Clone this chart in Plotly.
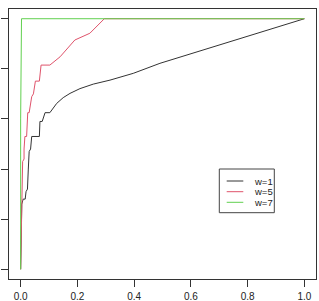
import plotly.graph_objects as go

# ROC-style curves
w1_x = [0, 0.004, 0.009, 0.016, 0.019, 0.024, 0.027, 0.030, 0.035, 0.039, 0.066, 0.068, 0.076,
        0.086, 0.103, 0.115, 0.127, 0.150, 0.174, 0.209, 0.256, 0.315, 0.397, 0.491, 1.0]
w1_y = [0, 0.26, 0.28, 0.28, 0.31, 0.32, 0.40, 0.47, 0.48, 0.53, 0.53, 0.59, 0.59,
        0.625, 0.625, 0.642, 0.662, 0.685, 0.702, 0.721, 0.739, 0.755, 0.782, 0.822, 1.0]

w5_x = [0, 0.003, 0.007, 0.012, 0.012, 0.015, 0.021, 0.025, 0.030, 0.039, 0.045, 0.052, 0.066,
        0.072, 0.103, 0.139, 0.191, 0.244, 0.295, 1.0]
w5_y = [0, 0.28, 0.43, 0.44, 0.48, 0.53, 0.53, 0.625, 0.625, 0.689, 0.70, 0.751, 0.751,
        0.815, 0.815, 0.848, 0.915, 0.942, 1.0, 1.0]

w7_x = [0, 0, 0.003, 1.0]
w7_y = [0, 0.6, 1.0, 1.0]

series_names = ["w=1", "w=5", "w=7"]
series_colors = ["#333333", "#DF536B", "#61D04F"]
x_ticks = [0.0, 0.2, 0.4, 0.6, 0.8, 1.0]
x_tick_labels = ["0.0", "0.2", "0.4", "0.6", "0.8", "1.0"]
y_ticks = [0.0, 0.2, 0.4, 0.6, 0.8, 1.0]

W, H = 319, 301
fig = go.Figure()
for xs, ys, name, col in zip([w1_x, w5_x, w7_x], [w1_y, w5_y, w7_y], series_names, series_colors):
    fig.add_trace(go.Scatter(x=xs, y=ys, mode="lines", name=name,
                             line=dict(color=col, width=1), showlegend=False))

# plot region in pixels
px_l, px_r, px_t, px_b = 9.3, 315.7, 8.7, 279.3

fig.update_layout(
    width=W, height=H,
    margin=dict(l=0, r=0, t=0, b=0),
    paper_bgcolor="white", plot_bgcolor="white",
    font=dict(family="Liberation Sans, Arial, sans-serif", size=10, color="#222"),
    xaxis=dict(domain=[px_l / W, px_r / W], range=[-0.04, 1.04],
               tickvals=x_ticks, ticktext=x_tick_labels,
               ticks="outside", ticklen=7, tickcolor="#333", tickwidth=1,
               showline=True, linecolor="#333", linewidth=1, mirror=True,
               showgrid=False, zeroline=False, automargin=False,
               ticklabelstandoff=1,
               tickfont=dict(size=10, color="#222")),
    yaxis=dict(domain=[1 - px_b / H, 1 - px_t / H], range=[-0.04, 1.04],
               tickvals=y_ticks, showticklabels=False,
               ticks="outside", ticklen=7, tickcolor="#333", tickwidth=1,
               showline=True, linecolor="#333", linewidth=1, mirror=True,
               showgrid=False, zeroline=False, automargin=False),
)

# manual legend (R-style)
lx0, lx1, ly0, ly1 = 219.3, 274.3, 169.0, 212.7
fig.add_shape(type="rect", xref="paper", yref="paper",
              x0=lx0 / W, x1=lx1 / W, y0=1 - ly1 / H, y1=1 - ly0 / H,
              line=dict(color="#444", width=1), fillcolor="white")
rows = [181.0, 191.7, 202.3]
for name, col, ry in zip(series_names, series_colors, rows):
    fig.add_shape(type="line", xref="paper", yref="paper",
                  x0=226.7 / W, x1=243.3 / W, y0=1 - ry / H, y1=1 - ry / H,
                  line=dict(color=col, width=1))
    fig.add_annotation(xref="paper", yref="paper", x=251.5 / W, y=1 - ry / H,
                       text=name, showarrow=False, xanchor="left", yanchor="middle",
                       font=dict(size=9.5, color="#222"))

fig.write_html("out.html")
